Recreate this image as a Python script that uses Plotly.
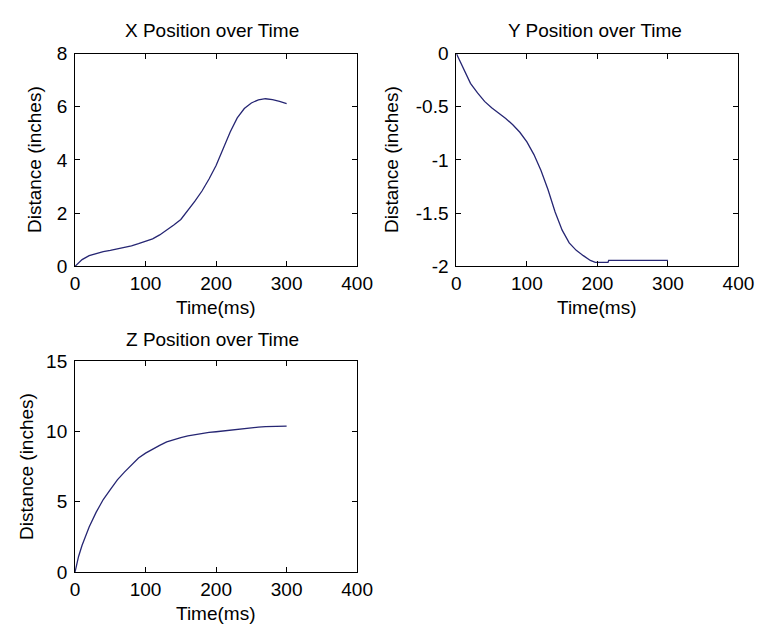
import plotly.graph_objects as go

# ---- data ----
t_x = [0, 5, 10, 20, 30, 40, 50, 60, 70, 80, 90, 100, 110, 120, 130, 140, 150,
       160, 170, 180, 190, 200, 210, 220, 230, 240, 250, 260, 270, 280, 290, 300]
x_pos = [0, 0.12, 0.25, 0.40, 0.48, 0.55, 0.60, 0.65, 0.70, 0.77, 0.85, 0.93, 1.03,
         1.18, 1.36, 1.55, 1.76, 2.10, 2.45, 2.83, 3.28, 3.79, 4.42, 5.05, 5.58,
         5.93, 6.14, 6.26, 6.30, 6.27, 6.20, 6.12]

t_y = [0, 5, 10, 20, 30, 40, 50, 60, 70, 80, 90, 100, 110, 120, 130, 140, 150,
       160, 170, 180, 190, 197, 215, 216, 300]
y_pos = [0, -0.07, -0.14, -0.28, -0.37, -0.45, -0.51, -0.56, -0.61, -0.67, -0.74,
         -0.83, -0.95, -1.10, -1.28, -1.49, -1.66, -1.78, -1.85, -1.90, -1.945,
         -1.964, -1.964, -1.945, -1.945]

t_z = [0, 5, 10, 20, 30, 40, 50, 60, 70, 80, 90, 100, 110, 120, 130, 140, 150,
       160, 170, 180, 190, 200, 210, 220, 230, 240, 250, 260, 270, 280, 290, 300]
z_pos = [0, 1.1, 1.9, 3.2, 4.25, 5.15, 5.85, 6.55, 7.1, 7.6, 8.1, 8.45, 8.75, 9.0,
         9.25, 9.42, 9.56, 9.68, 9.77, 9.85, 9.92, 9.97, 10.03, 10.09, 10.15, 10.2,
         10.26, 10.3, 10.33, 10.35, 10.36, 10.37]

x_ticks = [0, 100, 200, 300, 400]
x_ticktext = ["0", "100", "200", "300", "400"]
yx_ticks = [0, 2, 4, 6, 8]
yx_ticktext = ["0", "2", "4", "6", "8"]
yy_ticks = [-2, -1.5, -1, -0.5, 0]
yy_ticktext = ["-2", "-1.5", "-1", "-0.5", "0"]
yz_ticks = [0, 5, 10, 15]
yz_ticktext = ["0", "5", "10", "15"]

titles = ["X Position over Time", "Y Position over Time", "Z Position over Time"]
x_label = "Time(ms)"
y_label = "Distance (inches)"

# ---- figure ----
W, H = 771, 639
FONT = "Liberation Sans, Arial, Helvetica, sans-serif"
LINE = "#262673"
FS = 19

fig = go.Figure()
fig.add_trace(go.Scatter(x=t_x, y=x_pos, mode="lines", line=dict(color=LINE, width=1.3),
                         xaxis="x", yaxis="y", showlegend=False))
fig.add_trace(go.Scatter(x=t_y, y=y_pos, mode="lines", line=dict(color=LINE, width=1.3),
                         xaxis="x2", yaxis="y2", showlegend=False))
fig.add_trace(go.Scatter(x=t_z, y=z_pos, mode="lines", line=dict(color=LINE, width=1.3),
                         xaxis="x3", yaxis="y3", showlegend=False))

def px(v):
    return v / W

def py(v):
    return 1 - v / H

common = dict(showgrid=False, zeroline=False, showline=True, linecolor="black",
              linewidth=1, mirror="allticks", ticks="inside", ticklen=5,
              tickcolor="black", tickwidth=1, tickfont=dict(family=FONT, size=FS, color="black"),
              fixedrange=True)
ycommon = dict(common, ticklabelstandoff=3)

col1 = [px(72), px(362)]
col2 = [px(464), px(754)]
row1 = [py(265), py(45)]
row2 = [py(581), py(363)]

fig.update_layout(
    width=W, height=H, autosize=False,
    margin=dict(l=0, r=0, t=0, b=0),
    paper_bgcolor="white", plot_bgcolor="white",
    font=dict(family=FONT, size=FS, color="black"),
    xaxis=dict(domain=col1, anchor="y", range=[0, 400], tickvals=x_ticks, ticktext=x_ticktext, **common),
    yaxis=dict(domain=row1, anchor="x", range=[0, 8], tickvals=yx_ticks, ticktext=yx_ticktext, **ycommon),
    xaxis2=dict(domain=col2, anchor="y2", range=[0, 400], tickvals=x_ticks, ticktext=x_ticktext, **common),
    yaxis2=dict(domain=row1, anchor="x2", range=[-2, 0], tickvals=yy_ticks, ticktext=yy_ticktext, **ycommon),
    xaxis3=dict(domain=col1, anchor="y3", range=[0, 400], tickvals=x_ticks, ticktext=x_ticktext, **common),
    yaxis3=dict(domain=row2, anchor="x3", range=[0, 15], tickvals=yz_ticks, ticktext=yz_ticktext, **ycommon),
)

ann = []
def txt(x, y, s, angle=0):
    ann.append(dict(x=px(x), y=py(y), xref="paper", yref="paper", text=s, showarrow=False,
                    xanchor="center", yanchor="middle", textangle=angle,
                    font=dict(family=FONT, size=FS, color="black")))

# subplot titles
txt(213, 21, titles[0])
txt(607, 21, titles[1])
txt(213, 341, titles[2])
# x axis labels
txt(217, 308, x_label)
txt(609, 308, x_label)
txt(217, 624, x_label)
# y axis labels
txt(31, 155, y_label, -90)
txt(398, 155, y_label, -90)
txt(22, 472, y_label, -90)

fig.update_layout(annotations=ann)
fig.write_html("out.html", config={"displayModeBar": False},
               post_script="document.body.style.margin='0px';document.body.style.overflow='hidden';")
